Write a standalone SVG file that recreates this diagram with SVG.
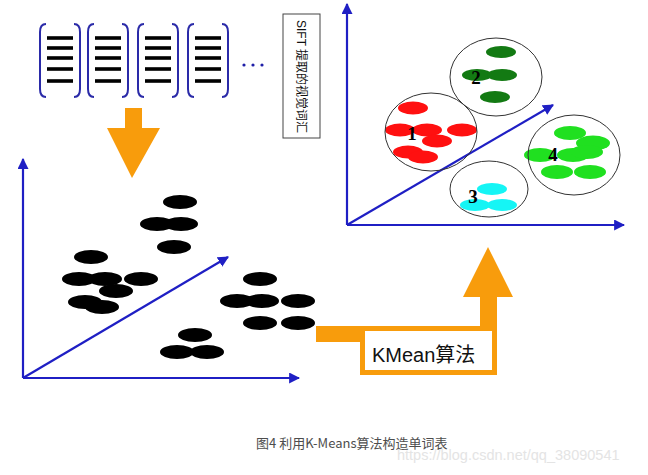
<svg xmlns="http://www.w3.org/2000/svg" width="648" height="475" viewBox="0 0 648 475">
<defs>
<style>
.ax{stroke:#1f1fc4;stroke-width:2.2;fill:none}
.br{stroke:#2a2aa8;stroke-width:2;fill:none}
.ln{stroke:#000;stroke-width:3.6}
.blk{fill:#000}
.red{fill:#ff1010}
.dg{fill:#137a13}
.cy{fill:#15f5f5}
.lg{fill:#20e020}
.cl{fill:none;stroke:#333;stroke-width:1}
.num{font-family:"Liberation Serif",serif;font-weight:bold;font-size:19px;fill:#000}
.or{fill:#f89c0c}
</style>
<marker id="ah" viewBox="0 0 10 10" refX="9" refY="5" markerWidth="5" markerHeight="5" orient="auto"><path d="M0,0 L10,5 L0,10 z" fill="#1f1fc4"/></marker>
<g id="doc">
<path class="br" d="M6,0 Q0,0 0,8 L0,65 Q0,73 6,73"/>
<path class="br" d="M34,0 Q40,0 40,8 L40,65 Q40,73 34,73"/>
<line class="ln" x1="7" y1="14" x2="33" y2="14"/>
<line class="ln" x1="7" y1="24" x2="33" y2="24"/>
<line class="ln" x1="7" y1="34" x2="33" y2="34"/>
<line class="ln" x1="7" y1="45" x2="33" y2="45"/>
<line class="ln" x1="7" y1="57" x2="33" y2="57"/>
</g>
</defs>
<rect width="648" height="475" fill="#fff"/>

<g id="documents">
<use href="#doc" x="40" y="24"/>
<use href="#doc" x="88" y="24"/>
<use href="#doc" x="138" y="24"/>
<use href="#doc" x="188" y="24"/>
<circle cx="244" cy="65" r="1.6" fill="#1f1fa8"/>
<circle cx="253" cy="65" r="1.6" fill="#1f1fa8"/>
<circle cx="262" cy="65" r="1.6" fill="#1f1fa8"/>
</g>

<g id="sift-label">
<rect x="283" y="14" width="37" height="124" fill="#fff" stroke="#444" stroke-width="1"/>
<text transform="translate(297,20) rotate(90)" font-family="Liberation Sans,'Noto Sans CJK SC',sans-serif" font-size="12" fill="#111">SIFT 提取的视觉词汇</text>
</g>

<g id="down-arrow">
<polygon class="or" points="125,108 142,108 142,128 160,128 132,178 107,128 125,128"/>
</g>

<g id="left-plot">
<line class="ax" x1="23" y1="378" x2="23" y2="159" marker-end="url(#ah)"/>
<line class="ax" x1="23" y1="378" x2="299" y2="378" marker-end="url(#ah)"/>
<line class="ax" x1="23" y1="378" x2="228" y2="257" marker-end="url(#ah)"/>
<g class="blk">
<ellipse cx="180" cy="202" rx="17" ry="7"/>
<ellipse cx="157" cy="224" rx="17" ry="7"/>
<ellipse cx="181" cy="224" rx="17" ry="7"/>
<ellipse cx="174" cy="247" rx="17" ry="7"/>
<ellipse cx="91" cy="257" rx="17" ry="7"/>
<ellipse cx="79" cy="279" rx="17" ry="7"/>
<ellipse cx="105" cy="279" rx="17" ry="7"/>
<ellipse cx="141" cy="279" rx="17" ry="7"/>
<ellipse cx="116" cy="291" rx="17" ry="7"/>
<ellipse cx="85" cy="302" rx="17" ry="7"/>
<ellipse cx="102" cy="307" rx="17" ry="7"/>
<ellipse cx="260" cy="279" rx="17" ry="7"/>
<ellipse cx="237" cy="301" rx="17" ry="7"/>
<ellipse cx="262" cy="301" rx="17" ry="7"/>
<ellipse cx="298" cy="301" rx="17" ry="7"/>
<ellipse cx="260" cy="323" rx="17" ry="7"/>
<ellipse cx="298" cy="323" rx="17" ry="7"/>
<ellipse cx="195" cy="335" rx="17" ry="7"/>
<ellipse cx="177" cy="352" rx="17" ry="7"/>
<ellipse cx="207" cy="352" rx="17" ry="7"/>
</g>
</g>

<g id="connectors">
<polygon class="or" points="316,326 480,326 480,297 463,297 488,247 513,297 497,297 497,342 316,342"/>
</g>

<g id="kmean">
<rect x="362.5" y="328.5" width="132" height="44" fill="#fff" stroke="#f89c0c" stroke-width="5"/>
<text x="372" y="362" font-family="Liberation Sans,'Noto Sans CJK SC',sans-serif" font-size="20" fill="#111">KMean算法</text>
</g>

<g id="right-plot">
<line class="ax" x1="347" y1="225" x2="347" y2="4" marker-end="url(#ah)"/>
<line class="ax" x1="347" y1="225" x2="624" y2="225" marker-end="url(#ah)"/>
<line class="ax" x1="347" y1="225" x2="553" y2="105" marker-end="url(#ah)"/>
<g id="cluster1">
<g class="red">
<ellipse cx="413" cy="108" rx="15" ry="6.5"/>
<ellipse cx="400" cy="130" rx="15" ry="6.5"/>
<ellipse cx="427" cy="130" rx="15" ry="6.5"/>
<ellipse cx="462" cy="130" rx="15" ry="6.5"/>
<ellipse cx="437" cy="141" rx="15" ry="6.5"/>
<ellipse cx="408" cy="152" rx="15" ry="6.5"/>
<ellipse cx="423" cy="157" rx="15" ry="6.5"/>
</g>
<ellipse class="cl" cx="431" cy="132" rx="46" ry="39"/>
<text class="num" x="412" y="140" text-anchor="middle">1</text>
</g>
<g id="cluster2">
<g class="dg">
<ellipse cx="501" cy="52" rx="15" ry="6"/>
<ellipse cx="477" cy="75" rx="15" ry="6"/>
<ellipse cx="502" cy="75" rx="15" ry="6"/>
<ellipse cx="495" cy="97" rx="15" ry="6"/>
</g>
<ellipse class="cl" cx="496" cy="77" rx="46" ry="39"/>
<text class="num" x="476" y="84" text-anchor="middle">2</text>
</g>
<g id="cluster3">
<g class="cy">
<ellipse cx="492" cy="189" rx="15" ry="6"/>
<ellipse cx="475" cy="205" rx="15" ry="6"/>
<ellipse cx="502" cy="205" rx="15" ry="6"/>
</g>
<ellipse class="cl" cx="489" cy="189" rx="39" ry="28"/>
<text class="num" x="473" y="203" text-anchor="middle">3</text>
</g>
<g id="cluster4">
<g class="lg">
<ellipse cx="570" cy="133" rx="16" ry="7"/>
<ellipse cx="540" cy="155" rx="16" ry="7"/>
<ellipse cx="573" cy="155" rx="16" ry="7"/>
<ellipse cx="593" cy="143" rx="17" ry="7.5"/>
<ellipse cx="587" cy="152" rx="16" ry="7"/>
<ellipse cx="557" cy="172" rx="16" ry="7"/>
<ellipse cx="590" cy="172" rx="16" ry="7"/>
</g>
<ellipse class="cl" cx="574" cy="155" rx="46" ry="40"/>
<text class="num" x="553" y="161" text-anchor="middle">4</text>
</g>
</g>

<g id="caption">
<text x="256" y="448" font-family="'Noto Sans CJK SC',sans-serif" font-size="13" fill="#4d4d4d">图4 利用K-Means算法构造单词表</text>
<text x="397" y="460" font-family="Liberation Sans,sans-serif" font-size="14.5" fill="#e4e4e4">https://blog.csdn.net/qq_38090541</text>
</g>
</svg>
